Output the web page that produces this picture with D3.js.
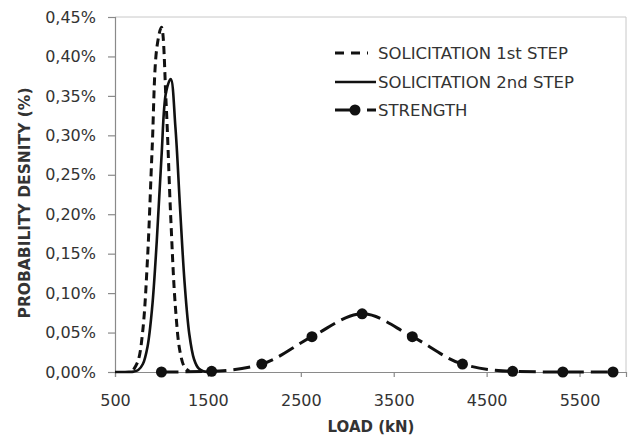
<!DOCTYPE html>
<html>
<head>
<meta charset="utf-8">
<script src="https://cdn.jsdelivr.net/npm/d3@7"></script>
<style>
  html, body { margin: 0; padding: 0; background: #ffffff; }
  svg { display: block; font-family: "DejaVu Sans", sans-serif; }
</style>
</head>
<body>
<svg id="chart" width="629" height="437"></svg>
<script>
// ---- data (load in kN, probability density in %) ----
const step1Load = [700, 750, 800, 850, 900, 950, 1000, 1050, 1100, 1150, 1200, 1250, 1300];
const step1Dens = [0.003, 0.0147, 0.0536, 0.1438, 0.2836, 0.4107, 0.4369, 0.3413, 0.1958, 0.0826, 0.0256, 0.0058, 0.001];

const step2Load = [500, 550, 600, 650, 700, 750, 800, 850, 900, 950, 1000, 1050, 1100, 1150, 1200, 1250, 1300, 1350, 1400, 1450, 1500];
const step2Dens = [0, 0, 0, 0.0001, 0.0005, 0.0025, 0.0101, 0.0321, 0.0818, 0.1667, 0.2719, 0.3551, 0.3713, 0.3107, 0.2082, 0.1116, 0.0479, 0.0165, 0.0045, 0.001, 0.0002];

const strengthLoad = [1000, 1540, 2080, 2620, 3160, 3700, 4240, 4780, 5320, 5860];
const strengthDens = [0, 0.0008, 0.0100, 0.0448, 0.0738, 0.0448, 0.0100, 0.0008, 0, 0];

const xTicks = [500, 1500, 2500, 3500, 4500, 5500];
const yTicks = [0, 0.05, 0.10, 0.15, 0.20, 0.25, 0.30, 0.35, 0.40, 0.45];
const legendLabels = ["SOLICITATION 1st STEP", "SOLICITATION 2nd STEP", "STRENGTH"];

(function () {
// ---- layout ----
const svg = d3.select("#chart");
const pLeft = 115, pRight = 626, pTop = 17, pBottom = 372;

const x = d3.scaleLinear().domain([500, 6000]).range([pLeft, pRight]);
const y = d3.scaleLinear().domain([0, 0.45]).range([pBottom, pTop]);

const textColor = "#333333";
const axisColor = "#8a8a8a";

// frame (top/right)
svg.append("path")
  .attr("d", `M${pLeft},${pTop}H${pRight}V${pBottom}`)
  .attr("fill", "none").attr("stroke", "#c8c8c8").attr("stroke-width", 1);

// axes
const fmtY = d => d3.format(".2f")(d).replace(".", ",") + "%";
const yAxis = svg.append("g").attr("transform", `translate(${pLeft},0)`)
  .call(d3.axisLeft(y).tickValues(yTicks).tickFormat(fmtY).tickSize(7).tickPadding(12));
const xAxis = svg.append("g").attr("transform", `translate(0,${pBottom})`)
  .call(d3.axisBottom(x).tickValues(xTicks).tickFormat(d3.format("d")).tickSize(5).tickPadding(18));

[xAxis, yAxis].forEach(g => {
  g.select(".domain").attr("stroke", axisColor).attr("stroke-width", 1.2);
  g.selectAll(".tick line").attr("stroke", axisColor).attr("stroke-width", 1.2);
  g.selectAll(".tick text").attr("fill", textColor).attr("font-size", 16)
    .attr("font-family", "DejaVu Sans, sans-serif");
});
xAxis.selectAll(".tick text").attr("dy", "0.71em");

// axis titles
svg.append("text").attr("x", 371).attr("y", 432)
  .attr("text-anchor", "middle").attr("font-weight", "bold").attr("font-size", 15)
  .attr("fill", textColor).text("LOAD (kN)");
svg.append("text")
  .attr("transform", "translate(30,203) rotate(-90)")
  .attr("text-anchor", "middle").attr("font-weight", "bold").attr("font-size", 15.5)
  .attr("fill", textColor).text("PROBABILITY DESNITY (%)");

// lines
const line = d3.line().x(d => x(d[0])).y(d => y(d[1])).curve(d3.curveCatmullRom.alpha(0.5));
const strengthLine = d3.line().x(d => x(d[0])).y(d => y(d[1])).curve(d3.curveMonotoneX);

const s1 = step1Load.map((v, i) => [v, step1Dens[i]]);
const s2 = step2Load.map((v, i) => [v, step2Dens[i]]);
const st = strengthLoad.map((v, i) => [v, strengthDens[i]]);

const plot = svg.append("g");
plot.append("path").attr("d", line(s2))
  .attr("fill", "none").attr("stroke", "#111").attr("stroke-width", 2.6);
plot.append("path").attr("d", line(s1))
  .attr("fill", "none").attr("stroke", "#111").attr("stroke-width", 3)
  .attr("stroke-dasharray", "8,5");
plot.append("path").attr("d", strengthLine(st))
  .attr("fill", "none").attr("stroke", "#111").attr("stroke-width", 3)
  .attr("stroke-dasharray", "17,7");
plot.selectAll("circle.m").data(st).enter().append("circle")
  .attr("class", "m")
  .attr("cx", d => x(d[0])).attr("cy", d => y(d[1])).attr("r", 5.5)
  .attr("fill", "#111");

// legend
const lg = svg.append("g");
const rows = [53, 82, 110];
lg.append("line").attr("x1", 335).attr("x2", 368).attr("y1", rows[0]).attr("y2", rows[0])
  .attr("stroke", "#111").attr("stroke-width", 3).attr("stroke-dasharray", "9,7");
lg.append("line").attr("x1", 335).attr("x2", 376).attr("y1", rows[1]).attr("y2", rows[1])
  .attr("stroke", "#111").attr("stroke-width", 2.6);
lg.append("line").attr("x1", 335).attr("x2", 376).attr("y1", rows[2]).attr("y2", rows[2])
  .attr("stroke", "#111").attr("stroke-width", 3).attr("stroke-dasharray", "23,9,9");
lg.append("circle").attr("cx", 355).attr("cy", rows[2]).attr("r", 5.5).attr("fill", "#111");

legendLabels.forEach((t, i) => {
  lg.append("text").attr("x", 378).attr("y", rows[i]).attr("dy", "0.36em")
    .attr("font-size", 16.5).attr("fill", textColor).text(t);
});
})();
</script>
</body>
</html>
